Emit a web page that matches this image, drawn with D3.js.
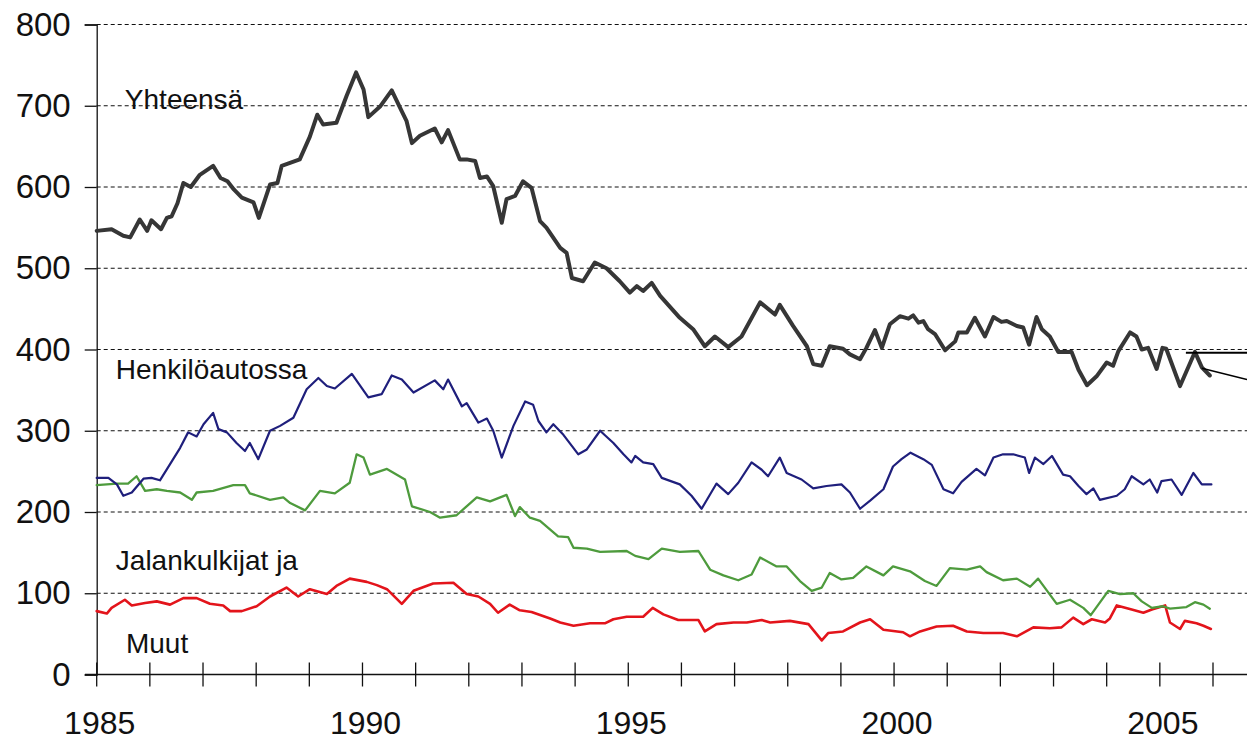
<!DOCTYPE html>
<html><head><meta charset="utf-8">
<script src="https://cdn.jsdelivr.net/npm/d3@7"></script>
<style>body{margin:0;background:#fff}svg{display:block}text{font-family:"Liberation Sans",Arial,sans-serif}</style>
</head><body><svg id="c" width="1247" height="742"></svg>
<script>
const yTicks=[0,100,200,300,400,500,600,700,800];
const yearTicks=d3.range(1985,2007);
const yearLabels=[1985,1990,1995,2000,2005];
const seriesNames=["Yhteensä","Henkilöautossa","Jalankulkijat ja","Muut"];

const yhteensa=[[1985.00,546],[1985.28,548],[1985.50,540],[1985.63,538],[1985.81,560],[1985.95,546],[1986.03,559],[1986.21,548],[1986.32,562],[1986.41,564],[1986.52,580],[1986.63,605],[1986.77,600],[1986.94,615],[1987.19,626],[1987.33,611],[1987.46,607],[1987.58,597],[1987.73,587],[1987.95,581],[1988.05,562],[1988.26,603],[1988.40,605],[1988.48,626],[1988.82,634],[1989.01,662],[1989.15,689],[1989.26,677],[1989.51,679],[1989.70,712],[1989.88,741],[1990.02,720],[1990.11,686],[1990.33,699],[1990.55,719],[1990.74,693],[1990.83,681],[1990.93,654],[1991.08,663],[1991.36,672],[1991.49,655],[1991.61,670],[1991.83,634],[1991.96,634],[1992.12,632],[1992.21,611],[1992.34,613],[1992.46,601],[1992.62,556],[1992.71,585],[1992.87,589],[1993.02,607],[1993.18,599],[1993.34,558],[1993.46,550],[1993.72,525],[1993.84,519],[1993.94,488],[1994.15,484],[1994.37,507],[1994.59,500],[1994.84,484],[1995.03,470],[1995.16,478],[1995.28,472],[1995.44,482],[1995.60,466],[1995.97,439],[1996.22,425],[1996.44,404],[1996.63,416],[1996.88,403],[1997.13,416],[1997.48,458],[1997.76,443],[1997.85,455],[1998.10,429],[1998.36,404],[1998.48,382],[1998.64,380],[1998.79,404],[1999.04,401],[1999.17,394],[1999.36,388],[1999.48,402],[1999.64,424],[1999.77,402],[1999.92,431],[2000.11,441],[2000.27,438],[2000.36,442],[2000.46,433],[2000.55,435],[2000.64,425],[2000.77,419],[2000.96,399],[2001.15,410],[2001.21,421],[2001.37,421],[2001.52,439],[2001.71,416],[2001.87,440],[2002.02,434],[2002.12,435],[2002.31,429],[2002.43,427],[2002.54,406],[2002.68,440],[2002.78,425],[2002.93,416],[2003.09,397],[2003.34,397],[2003.47,375],[2003.63,356],[2003.81,367],[2004.00,384],[2004.12,380],[2004.22,398],[2004.44,421],[2004.56,416],[2004.66,400],[2004.78,402],[2004.94,376],[2005.05,402],[2005.12,401],[2005.38,355],[2005.66,397],[2005.79,378],[2005.94,368]];

const henkiloauto=[[1985.00,242],[1985.22,242],[1985.38,234],[1985.50,220],[1985.66,224],[1985.88,241],[1986.03,242],[1986.19,239],[1986.38,259],[1986.57,279],[1986.72,298],[1986.88,293],[1987.01,308],[1987.19,322],[1987.29,302],[1987.45,298],[1987.63,285],[1987.79,275],[1987.88,285],[1988.04,265],[1988.26,300],[1988.45,306],[1988.70,316],[1988.95,351],[1989.17,365],[1989.33,355],[1989.48,352],[1989.80,370],[1990.11,341],[1990.36,345],[1990.55,368],[1990.74,363],[1990.96,347],[1991.36,362],[1991.52,351],[1991.61,363],[1991.87,330],[1991.96,334],[1992.18,310],[1992.34,315],[1992.46,300],[1992.62,267],[1992.84,306],[1993.06,336],[1993.21,332],[1993.31,312],[1993.46,298],[1993.59,308],[1993.78,295],[1994.06,271],[1994.22,277],[1994.47,300],[1994.72,285],[1994.91,271],[1995.06,261],[1995.13,269],[1995.28,261],[1995.47,259],[1995.63,242],[1995.97,234],[1996.19,220],[1996.38,204],[1996.66,235],[1996.88,222],[1997.07,236],[1997.32,261],[1997.51,252],[1997.63,244],[1997.85,267],[1997.98,248],[1998.26,240],[1998.48,229],[1998.73,232],[1999.01,234],[1999.17,224],[1999.36,204],[1999.55,214],[1999.80,228],[1999.98,256],[2000.14,265],[2000.31,273],[2000.55,265],[2000.71,258],[2000.93,228],[2001.11,223],[2001.27,237],[2001.55,253],[2001.71,245],[2001.87,267],[2002.05,271],[2002.24,271],[2002.46,267],[2002.54,248],[2002.65,267],[2002.81,259],[2002.97,269],[2003.18,246],[2003.31,244],[2003.47,232],[2003.62,222],[2003.75,229],[2003.87,215],[2004.19,220],[2004.34,228],[2004.47,244],[2004.69,234],[2004.81,240],[2004.95,224],[2005.03,238],[2005.22,240],[2005.41,221],[2005.63,248],[2005.79,234],[2005.97,234]];

const jalankulkijat=[[1985.00,233],[1985.38,235],[1985.59,235],[1985.75,244],[1985.91,226],[1986.13,228],[1986.32,226],[1986.57,224],[1986.79,215],[1986.88,224],[1987.19,226],[1987.57,233],[1987.79,233],[1987.88,223],[1988.26,215],[1988.51,218],[1988.64,211],[1988.92,202],[1989.20,226],[1989.48,223],[1989.76,236],[1989.89,271],[1990.02,267],[1990.14,246],[1990.46,253],[1990.80,240],[1990.93,207],[1991.27,200],[1991.46,193],[1991.77,196],[1992.15,218],[1992.40,213],[1992.71,221],[1992.87,195],[1992.96,206],[1993.15,193],[1993.34,189],[1993.68,170],[1993.87,169],[1993.97,156],[1994.22,155],[1994.47,151],[1994.97,152],[1995.13,146],[1995.38,142],[1995.63,155],[1995.97,151],[1996.32,152],[1996.54,129],[1996.79,122],[1997.07,116],[1997.32,123],[1997.48,144],[1997.79,133],[1997.98,133],[1998.23,115],[1998.45,103],[1998.64,107],[1998.79,125],[1999.01,117],[1999.23,119],[1999.48,133],[1999.80,122],[1999.98,133],[2000.30,127],[2000.58,115],[2000.80,109],[2001.05,131],[2001.37,129],[2001.62,133],[2001.74,126],[2002.05,116],[2002.31,118],[2002.56,108],[2002.71,118],[2003.06,87],[2003.31,92],[2003.56,82],[2003.70,73],[2004.03,103],[2004.25,99],[2004.50,100],[2004.66,90],[2004.85,82],[2005.06,84],[2005.19,81],[2005.50,83],[2005.66,89],[2005.82,86],[2005.94,81]];

const muut=[[1985.00,78],[1985.19,75],[1985.28,82],[1985.53,92],[1985.66,85],[1985.91,88],[1986.13,90],[1986.38,86],[1986.63,94],[1986.88,94],[1987.13,87],[1987.38,85],[1987.51,78],[1987.73,78],[1988.01,84],[1988.26,96],[1988.57,107],[1988.79,96],[1989.01,105],[1989.33,99],[1989.51,109],[1989.76,118],[1990.08,114],[1990.27,110],[1990.46,105],[1990.74,87],[1990.96,103],[1991.33,112],[1991.71,113],[1991.96,99],[1992.18,96],[1992.40,87],[1992.55,76],[1992.77,86],[1992.96,79],[1993.18,77],[1993.53,69],[1993.72,64],[1993.97,60],[1994.28,63],[1994.56,63],[1994.72,68],[1994.97,71],[1995.28,71],[1995.46,82],[1995.66,74],[1995.94,67],[1996.32,67],[1996.44,53],[1996.66,62],[1996.98,64],[1997.23,64],[1997.51,67],[1997.67,64],[1998.04,66],[1998.39,62],[1998.64,42],[1998.76,51],[1999.04,53],[1999.36,64],[1999.55,68],[1999.80,55],[2000.17,52],[2000.30,47],[2000.49,53],[2000.80,59],[2001.11,60],[2001.37,53],[2001.68,51],[2002.05,51],[2002.31,47],[2002.62,58],[2002.93,57],[2003.15,58],[2003.37,70],[2003.56,62],[2003.72,68],[2003.97,64],[2004.06,69],[2004.19,85],[2004.47,80],[2004.69,76],[2004.85,80],[2005.10,85],[2005.19,64],[2005.38,56],[2005.47,66],[2005.69,63],[2005.82,60],[2005.96,56]];

const W=1247,H=742;
const svg=d3.select("#c");
const x=d3.scaleLinear().domain([1985,2006]).range([96.7,1213]);
const y=d3.scaleLinear().domain([0,800]).range([674.5,24.5]);

// gridlines
svg.append("g").selectAll("line").data(yTicks.filter(v=>v>0)).join("line")
  .attr("x1",x(1985)).attr("x2",W).attr("y1",d=>y(d)).attr("y2",d=>y(d))
  .attr("stroke","#111").attr("stroke-width",1.2).attr("stroke-dasharray","4,3");

// y axis
const ya=svg.append("g").attr("transform",`translate(${x(1985)},0)`)
  .call(d3.axisLeft(y).tickValues(yTicks).tickSize(12).tickPadding(14).tickFormat(d3.format("d")));
ya.select(".domain").attr("stroke","#111").attr("stroke-width",1.3);
ya.selectAll(".tick line").attr("stroke","#111").attr("stroke-width",1.3);
ya.selectAll("text").attr("font-size",33).attr("fill","#111").attr("font-family","Liberation Sans, Arial, sans-serif");

// x axis line
svg.append("line").attr("x1",85).attr("x2",W).attr("y1",y(0)).attr("y2",y(0)).attr("stroke","#111").attr("stroke-width",1.6);
svg.append("g").selectAll("line").data(yearTicks).join("line")
  .attr("x1",d=>x(d)).attr("x2",d=>x(d)).attr("y1",y(0)-12).attr("y2",y(0)+12)
  .attr("stroke","#111").attr("stroke-width",1.3);
svg.append("g").selectAll("text").data(yearLabels).join("text")
  .attr("x",d=>x(d)+3).attr("y",734).attr("text-anchor","middle")
  .attr("font-size",32).attr("fill","#111").text(d=>d);

// lines
const line=d3.line().x(d=>x(d[0])).y(d=>y(d[1]));
const series=[
  {data:muut,color:"#e3141b",w:2.6},
  {data:jalankulkijat,color:"#4e9b3d",w:2.3},
  {data:henkiloauto,color:"#1f1f7c",w:2.2},
  {data:yhteensa,color:"#363636",w:4}
];
svg.append("g").selectAll("path").data(series).join("path")
  .attr("d",d=>line(d.data)).attr("fill","none")
  .attr("stroke",d=>d.color).attr("stroke-width",d=>d.w)
  .attr("stroke-linejoin","round").attr("stroke-linecap","round");

// leader lines (labels cut off at right edge)
svg.append("line").attr("x1",x(2005.49)).attr("x2",W).attr("y1",y(396)).attr("y2",y(396)).attr("stroke","#000").attr("stroke-width",1.8);
svg.append("line").attr("x1",x(2005.79)).attr("y1",y(377)).attr("x2",W).attr("y2",y(363)).attr("stroke","#000").attr("stroke-width",1.6);

// series labels
const labelPos=[[1985.53,696],[1985.36,364],[1985.36,129],[1985.55,27]];
svg.append("g").selectAll("text").data(seriesNames).join("text")
  .attr("x",(d,i)=>x(labelPos[i][0])).attr("y",(d,i)=>y(labelPos[i][1]))
  .attr("font-size",28).attr("fill","#111").text(d=>d);
</script></body></html>
